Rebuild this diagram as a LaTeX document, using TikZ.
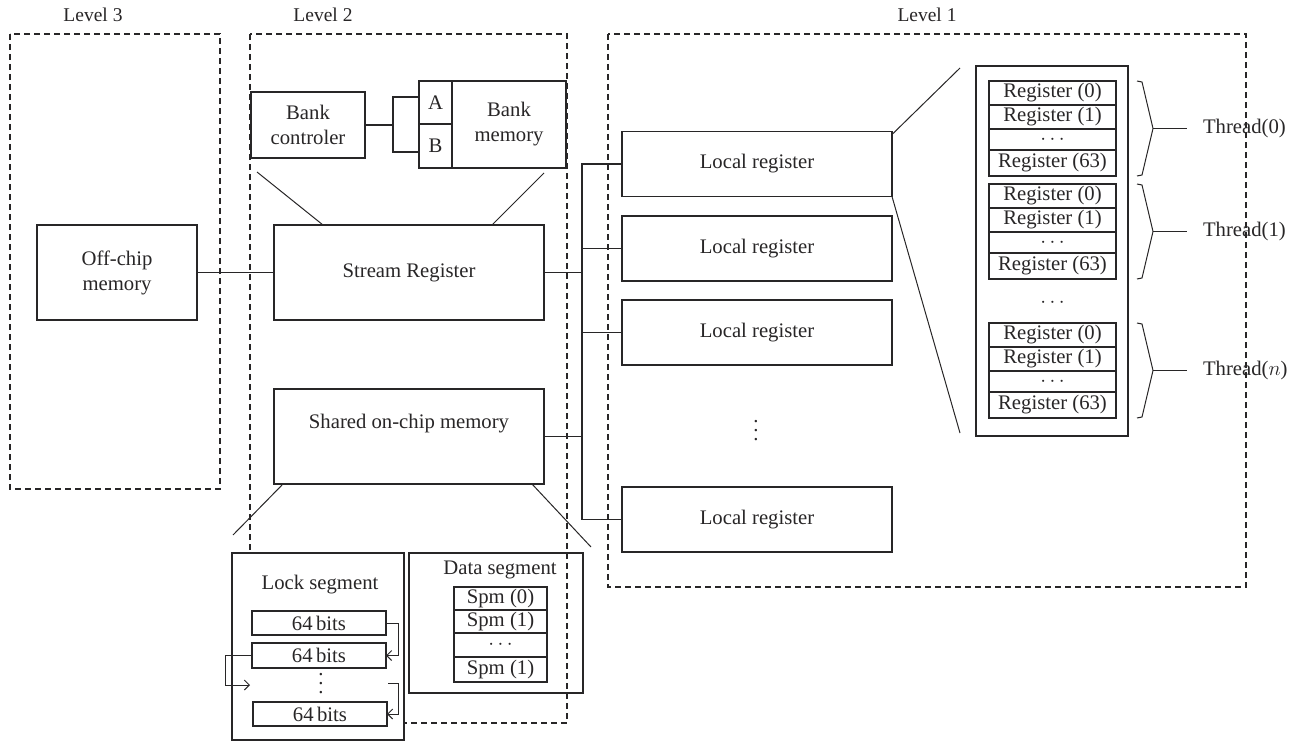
\documentclass[tikz,border=0pt]{standalone}
\usepackage{fontspec}
\setmainfont{Liberation Serif}
\usetikzlibrary{arrows.meta, positioning, calc}
\definecolor{inkgray}{RGB}{40,38,39}

\newcommand{\tallvdots}{\vbox{\baselineskip=9pt \lineskiplimit=0pt \hbox{.}\hbox{.}\hbox{.}}}

\tikzset{
  unitbox/.style={draw, fill=white, inner sep=0pt, outer sep=0pt, align=center},
  levelbox/.style={draw, dash pattern=on 6pt off 4pt},
  cell/.style={draw, fill=white, inner sep=0pt, outer sep=0pt},
  bus/.style={line width=1.7pt},
  zoomline/.style={line width=1pt},
  levellabel/.style={font=\fontsize{19.5}{22}\selectfont},
}

\begin{document}
\begin{tikzpicture}[x=1pt, y=-1pt, color=inkgray, line width=1.1pt,
  font=\fontsize{20.7}{25}\selectfont, >={Straight Barb[length=5pt, width=10pt]}]
\useasboundingbox (0,0) rectangle (1295,741);

% Levels
\draw[levelbox] (10,34) rectangle (220,489);
\draw[levelbox] (250,34) rectangle (567,723);
\draw[levelbox] (608,34) rectangle (1246,587);
\node[levellabel] (lvl3) at (93,15) {Level 3};
\node[levellabel] (lvl2) at (323,15) {Level 2};
\node[levellabel] (lvl1) at (927,15) {Level 1};

% Level 3
\node[unitbox, minimum width=160pt, minimum height=95pt] (offchip) at (117,272.5) {Off-chip\\memory};

% Level 2
\node[unitbox, minimum width=114pt, minimum height=66pt] (bankctl) at (308,125) {Bank\\controler};
\node[unitbox, minimum width=33pt, minimum height=43pt] (banka) at (435.5,102.5) {A};
\node[unitbox, minimum width=33pt, minimum height=44pt] (bankb) at (435.5,146) {B};
\node[unitbox, minimum width=114pt, minimum height=87pt] (bankmem) at (509,124.5) {Bank\\memory};
\node[unitbox, minimum width=270pt, minimum height=95pt] (stream) at (409,272.5) {Stream Register};
\node[unitbox, minimum width=270pt, minimum height=95pt,
  label={[yshift=13pt]center:Shared on-chip memory}] (shared) at (409,436.5) {};

\coordinate (split) at (393,125);
\draw (bankctl.east) -- (split);
\draw ($(banka.west)+(0,-5.5)$) -| (split) |- ($(bankb.west)+(0,6)$);

% Level 1
\foreach \i/\y in {1/164, 2/248.5, 3/332.5, 4/519.5}
  \node[unitbox, minimum width=270pt, minimum height=65pt] (lr\i) at (757,\y) {Local register};
\node (lrdots) at (756,431) {\tallvdots};

% register file of one local register
\node[draw, minimum width=152pt, minimum height=370pt, inner sep=0pt, outer sep=0pt] (regfile) at (1052,251) {};
\foreach \t/\y/\n in {0/81/0, 1/184/1, n/323/{$n$}} {
  \node[cell, minimum width=127pt, minimum height=24pt, anchor=north] (reg\t-a) at (1052.5,\y) {Register (0)};
  \node[cell, minimum width=127pt, minimum height=24pt, below=0pt of reg\t-a] (reg\t-b) {Register (1)};
  \node[cell, minimum width=127pt, minimum height=21pt, below=0pt of reg\t-b] (reg\t-c) {$\cdots$};
  \node[cell, minimum width=127pt, minimum height=26pt, below=0pt of reg\t-c] (reg\t-d) {Register (63)};
  \draw[zoomline] (1137,\y) -- ++(5,1) -- ++(11,46.5) coordinate (tip\t) -- ++(-11,46.5) -- ++(-5,1);
  \node[anchor=west, inner xsep=16pt, inner ysep=0pt, outer sep=0pt] (thread\t) at ($(tip\t)+(34,0)$) {Thread(\n)};
  \draw[zoomline] (tip\t) -- (thread\t);
}
\node (regdots) at (1052.5,303) {$\cdots$};

\coordinate (regtop) at (960,68);
\coordinate (regbot) at (960,433);
\draw[zoomline] ($(lr1.north east)+(0,3)$) -- (regtop);
\draw[zoomline] (lr1.south east) -- (regbot);

% Bus
\coordinate (bus) at (582,0);
\draw[bus] (lr1.west) -- (lr1.west -| bus) -- (lr4.west -| bus) -- (lr4.west);
\draw[bus] (lr2.west) -- (lr2.west -| bus);
\draw[bus] (lr3.west) -- (lr3.west -| bus);
\draw[bus] (stream.east) -- (stream.east -| bus);
\draw[bus] (shared.east) -- (shared.east -| bus);
\draw[bus] (offchip.east) -- (stream.west);

% Zoom of bank and shared memory
\coordinate (banktl) at (257,172);
\coordinate (banktr) at (544,173);
\draw[zoomline] (banktl) -- ($(stream.north west)+(49,0)$);
\draw[zoomline] (banktr) -- ($(stream.north east)+(-52,0)$);
\coordinate (segl) at (233,535);
\coordinate (segr) at (591,547);
\draw[zoomline] ($(shared.south west)+(9,0)$) -- (segl);
\draw[zoomline] ($(shared.south east)+(-12,0)$) -- (segr);

% Lock segment
\node[unitbox, minimum width=172pt, minimum height=187pt] (lockseg) at (318,646.5) {};
\node (locktitle) at (320,585) {Lock segment};
\node[cell, minimum width=134pt, minimum height=24pt] (bits1) at (319,623) {64\,bits};
\node[cell, minimum width=134pt, minimum height=25pt] (bits2) at (319,655.5) {64\,bits};
\node (bitsdots) at (321,684) {\tallvdots};
\node[cell, minimum width=134pt, minimum height=24pt] (bits3) at (320,714) {64\,bits};
\coordinate (gapl) at (250,685);
\coordinate (gapr) at (388,683);
\draw[zoomline, ->] (bits1.east) -- ++(12,0) |- (bits2.east);
\draw[zoomline, ->] (gapr) -- ++(10,0) |- (bits3.east);
\draw[zoomline, ->] (bits2.west) -- ++(-27,0) |- (gapl);

% Data segment
\node[draw, minimum width=174pt, minimum height=140pt, inner sep=0pt, outer sep=0pt] (dataseg) at (496,623) {};
\node (datatitle) at (500,570) {Data segment};
\node[cell, minimum width=93pt, minimum height=23pt, anchor=north] (spm-a) at (500.5,587) {Spm (0)};
\node[cell, minimum width=93pt, minimum height=23pt, below=0pt of spm-a] (spm-b) {Spm (1)};
\node[cell, minimum width=93pt, minimum height=24pt, below=0pt of spm-b] (spm-c) {$\cdots$};
\node[cell, minimum width=93pt, minimum height=25pt, below=0pt of spm-c] (spm-d) {Spm (1)};
\end{tikzpicture}
\end{document}
